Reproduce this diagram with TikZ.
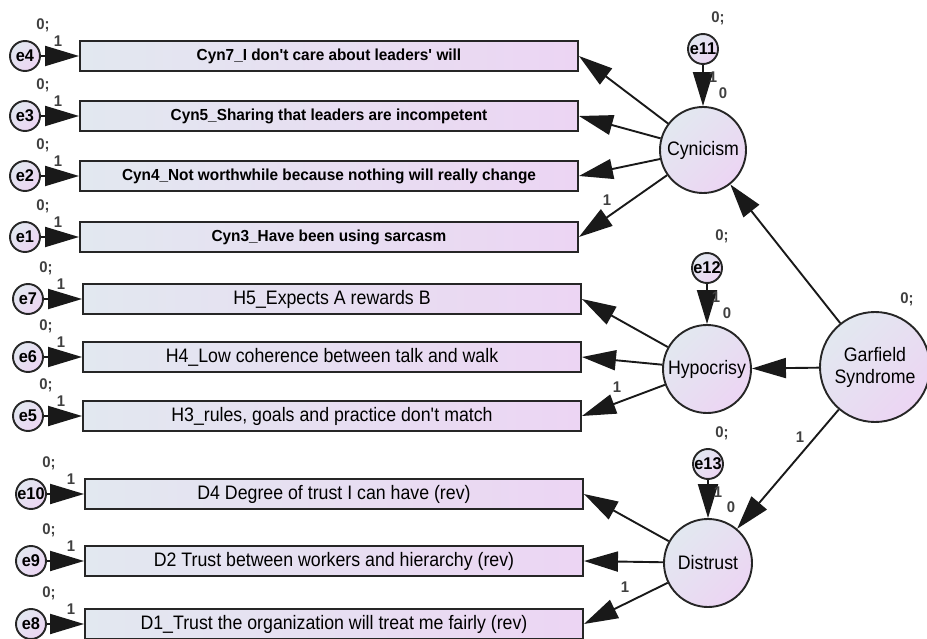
\documentclass[tikz,border=0pt]{standalone}
\usepackage{fontspec}
\setmainfont{Liberation Sans}
\newfontfamily\narrowsans[FakeStretch=0.91]{Liberation Sans}
\newfontfamily\boldsans[FakeStretch=0.96]{Liberation Sans Bold}
\usetikzlibrary{arrows.meta}

\definecolor{semlight}{RGB}{226,232,240}
\definecolor{semlav}{RGB}{236,213,243}

\tikzset{
	obs/.style = {draw=black!85, line width=1.9pt, left color=semlight, right color=semlav, minimum width=498pt, minimum height=30pt, inner sep=0pt},
	lat/.style = {circle, draw=black!85, line width=1.9pt, top color=semlight, bottom color=semlav, shading angle=45, inner sep=0pt, align=center, font=\narrowsans\fontsize{19.5}{22}\selectfont},
	err/.style = {lat, minimum size=30pt, font=\boldsans\fontsize{17}{17}\selectfont},
	sempath/.style = {line width=1.9pt, draw=black!90, -{Triangle[length=34pt, width=20pt]}},
	parlbl/.style = {text=black!75, inner sep=0pt, font=\boldsans\fontsize{15.5}{15.5}\selectfont}
}

\begin{document}
\begin{tikzpicture}[x = 1pt, y = -1pt]
	\useasboundingbox (0,0) rectangle (927,639);
	\pgfmathsetmacro{\dx}{18};
	\pgfmathsetmacro{\dy}{-31};

	% cynicism items
	\foreach \e/\v/\y/\t in {4/cyn7/56/{Cyn7\_I don\textquotesingle t care about leaders\textquotesingle\ will}, 3/cyn5/116/{Cyn5\_Sharing that leaders are incompetent}, 2/cyn4/176/{Cyn4\_Not worthwhile because nothing will really change}, 1/cyn3/237/{Cyn3\_Have been using sarcasm}} {
		\node[obs, font=\boldsans\fontsize{16}{17}\selectfont] (\v) at (329,\y) {\t};
		\node[err] (e\e) at (25,\y) {e\e};
		\draw[sempath] (e\e) -- (\v.west);
		\node[parlbl] at ([shift={(\dx,\dy)}]e\e) {0;};
		\node[parlbl] at ([shift={(33,-15)}]e\e) {1};
	}

	% hypocrisy items
	\foreach \e/\v/\y/\t in {7/h5/299/{H5\_Expects A rewards B}, 6/h4/357/{H4\_Low coherence between talk and walk}, 5/h3/416/{H3\_rules, goals and practice don\textquotesingle t match}} {
		\node[obs, font=\narrowsans\fontsize{19.5}{20}\selectfont] (\v) at (332,\y) {\t};
		\node[err] (e\e) at (28,\y) {e\e};
		\draw[sempath] (e\e) -- (\v.west);
		\node[parlbl] at ([shift={(\dx,\dy)}]e\e) {0;};
		\node[parlbl] at ([shift={(33,-15)}]e\e) {1};
	}

	% distrust items
	\foreach \e/\v/\y/\t in {10/d4/494/{D4 Degree of trust I can have (rev)}, 9/d2/561/{D2 Trust between workers and hierarchy (rev)}, 8/d1/624/{D1\_Trust the organization will treat me fairly (rev)}} {
		\node[obs, font=\narrowsans\fontsize{19.5}{20}\selectfont] (\v) at (334,\y) {\t};
		\node[err] (e\e) at (31,\y) {e\e};
		\draw[sempath] (e\e) -- (\v.west);
		\node[parlbl] at ([shift={(\dx,\dy)}]e\e) {0;};
		\node[parlbl] at ([shift={(40,-15)}]e\e) {1};
	}

	% latent variables
	\node[lat, minimum size=86pt] (cyn) at (703,150) {Cynicism};
	\node[lat, minimum size=88pt] (hyp) at (707,369) {Hypocrisy};
	\node[lat, minimum size=88pt] (dis) at (708,563) {Distrust};
	\node[lat, minimum size=110pt] (gs) at (875,367) {Garfield\\Syndrome};

	\node[err] (e11) at (703,49) {e11};
	\node[err] (e12) at (707,268) {e12};
	\node[err] (e13) at (708,464) {e13};

	\foreach \v in {cyn7,cyn5,cyn4,cyn3}
		\draw[sempath] (cyn) -- (\v.east);
	\foreach \v in {h5,h4,h3}
		\draw[sempath] (hyp) -- (\v.east);
	\foreach \v in {d4,d2,d1}
		\draw[sempath] (dis) -- (\v.east);

	\draw[sempath] (e11) -- (cyn);
	\draw[sempath] (e12) -- (hyp);
	\draw[sempath] (e13) -- (dis);
	\draw[sempath] (gs) -- (cyn);
	\draw[sempath] (gs) -- (hyp);
	\draw[sempath] (gs) -- (dis);

	% parameter labels
	\node[parlbl] at (607,200) {1};
	\node[parlbl] at (617,387) {1};
	\node[parlbl] at (625,587) {1};
	\node[parlbl] at (800,437) {1};
	\node[parlbl] at (907,299) {0;};
	\node[parlbl] at (718,18) {0;};
	\node[parlbl] at (713,77) {1};
	\node[parlbl] at (723,93) {0};
	\node[parlbl] at (722,236) {0;};
	\node[parlbl] at (716,297) {1};
	\node[parlbl] at (727,313) {0};
	\node[parlbl] at (722,433) {0;};
	\node[parlbl] at (718,492) {1};
	\node[parlbl] at (731,507) {0};
\end{tikzpicture}
\end{document}
